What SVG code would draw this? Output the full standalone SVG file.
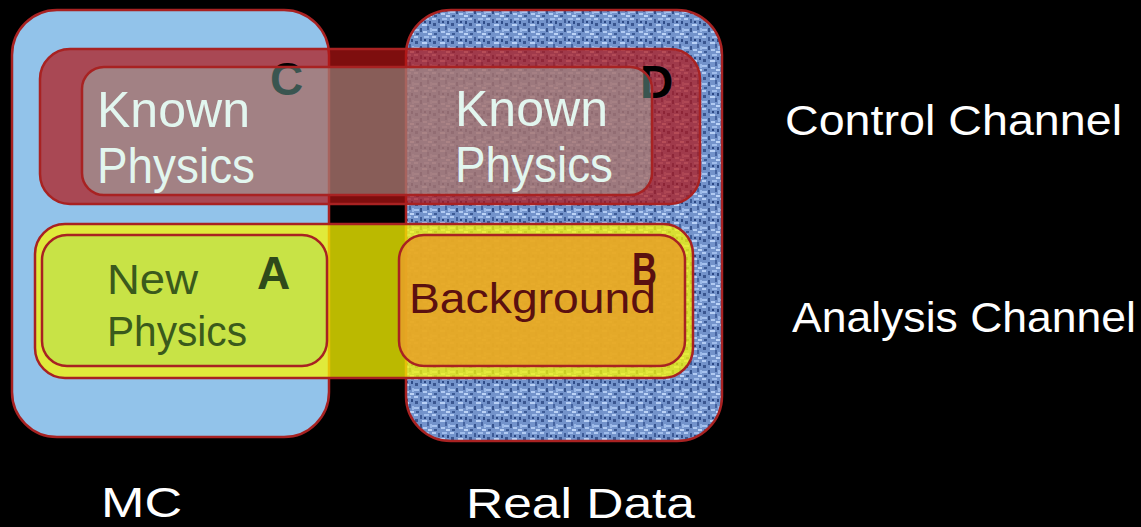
<svg xmlns="http://www.w3.org/2000/svg" width="1141" height="527" viewBox="0 0 1141 527">
  <defs>
    <pattern id="tex" width="18" height="18" patternUnits="userSpaceOnUse">
      <rect width="18" height="18" fill="#7393CB"/>
      <rect x="0" y="0" width="4" height="2" fill="#B2CBF3"/>
      <rect x="6" y="1" width="2" height="4" fill="#3E5C98"/>
      <rect x="10" y="0" width="5" height="2" fill="#A0BDEB"/>
      <rect x="15" y="3" width="2" height="3" fill="#2F4C88"/>
      <rect x="1" y="5" width="3" height="3" fill="#3A5690"/>
      <rect x="8" y="6" width="5" height="2" fill="#B8D0F5"/>
      <rect x="13" y="8" width="2" height="4" fill="#45639F"/>
      <rect x="0" y="11" width="5" height="2" fill="#A6C2EE"/>
      <rect x="6" y="10" width="2" height="4" fill="#35528C"/>
      <rect x="9" y="13" width="4" height="2" fill="#B0CAF2"/>
      <rect x="16" y="10" width="2" height="4" fill="#9AB8E8"/>
      <rect x="2" y="15" width="3" height="2" fill="#3C5A95"/>
      <rect x="14" y="15" width="4" height="2" fill="#BCD3F6"/>
      <rect x="10" y="3" width="2" height="2" fill="#2C4884"/>
    </pattern>
    <style>
      .box { stroke: #A82222; stroke-width: 2.5; }
      .big { font-family: "Liberation Sans", Arial, sans-serif; font-size: 50px; fill: #E2F6EF; }
      .mid { font-family: "Liberation Sans", Arial, sans-serif; font-size: 42px; }
      .lbl { font-family: "Liberation Sans", Arial, sans-serif; font-size: 46px; font-weight: bold; }
      .side { font-family: "Liberation Sans", Arial, sans-serif; font-size: 42px; fill: #FFFFFF; }
    </style>
  </defs>
  <rect width="1141" height="527" fill="#000000"/>

  <g id="mc-box">
    <rect class="box" x="12" y="10" width="317" height="427" rx="45" fill="#92C3EA"/>
  </g>
  <g id="real-data-box">
    <rect class="box" x="406" y="10" width="316" height="431" rx="45" fill="url(#tex)"/>
  </g>

  <g id="analysis-band">
    <rect class="box" x="35" y="224" width="658" height="154" rx="30" fill="#FAF700" fill-opacity="0.75"/>
  </g>
  <g id="node-a">
    <rect class="box" x="42" y="235" width="285" height="131" rx="25" fill="#C8E346"/>
    <text class="mid" fill="#3A5A1C" x="107" y="294" textLength="91" lengthAdjust="spacingAndGlyphs">New</text>
    <text class="mid" fill="#3A5A1C" x="107" y="346" textLength="140" lengthAdjust="spacingAndGlyphs">Physics</text>
    <text class="lbl" fill="#2F4A1A" x="257" y="289">A</text>
  </g>
  <g id="node-b">
    <rect class="box" x="399" y="235" width="286" height="131" rx="25" fill="#E6A028" fill-opacity="0.85"/>
    <text class="mid" fill="#5A1010" x="409" y="313" textLength="247" lengthAdjust="spacingAndGlyphs">Background</text>
    <text class="lbl" fill="#5A1010" x="632" y="285" textLength="25" lengthAdjust="spacingAndGlyphs">B</text>
  </g>

  <g id="control-band">
    <rect class="box" x="40" y="49" width="660" height="155" rx="30" fill="#B41414" fill-opacity="0.7"/>
  </g>
  <g id="known-physics">
    <text class="lbl" fill="#000000" x="270" y="95">C</text>
    <text class="lbl" fill="#000000" x="640" y="98">D</text>
    <rect class="box" x="82" y="67" width="570" height="128" rx="22" fill="#99E0D3" fill-opacity="0.38"/>
    <text class="big" x="97" y="127" textLength="153" lengthAdjust="spacingAndGlyphs">Known</text>
    <text class="big" x="97" y="183" textLength="158" lengthAdjust="spacingAndGlyphs">Physics</text>
    <text class="big" x="455" y="126" textLength="153" lengthAdjust="spacingAndGlyphs">Known</text>
    <text class="big" x="455" y="182" textLength="158" lengthAdjust="spacingAndGlyphs">Physics</text>
  </g>

  <g id="connectors"></g>

  <g id="labels">
    <text class="side" x="785" y="135" textLength="337" lengthAdjust="spacingAndGlyphs">Control Channel</text>
    <text class="side" x="792" y="332" textLength="344" lengthAdjust="spacingAndGlyphs">Analysis Channel</text>
    <text class="side" x="101" y="517" textLength="81" lengthAdjust="spacingAndGlyphs">MC</text>
    <text class="side" x="466" y="518" textLength="229" lengthAdjust="spacingAndGlyphs">Real Data</text>
  </g>
</svg>
